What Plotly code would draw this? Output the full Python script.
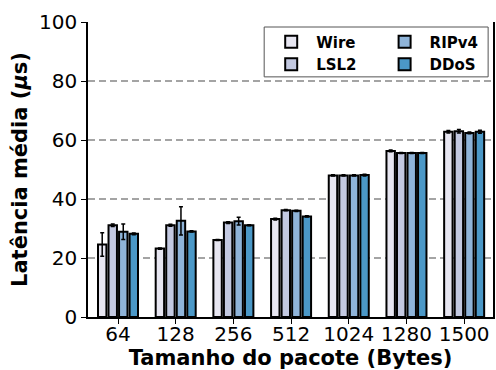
import plotly.graph_objects as go

categories = ["64", "128", "256", "512", "1024", "1280", "1500"]
series = ["Wire", "LSL2", "RIPv4", "DDoS"]
wire = [24.6, 23.2, 26.1, 33.2, 48.0, 56.3, 62.8]
wire_err = [4.0, 0.2, 0.2, 0.3, 0.2, 0.3, 0.4]
lsl2 = [31.1, 31.1, 32.0, 36.2, 48.0, 55.6, 63.0]
lsl2_err = [0.4, 0.3, 0.3, 0.2, 0.2, 0.2, 0.6]
ripv4 = [28.9, 32.6, 32.5, 36.0, 48.0, 55.6, 62.4]
ripv4_err = [2.6, 4.8, 1.3, 0.2, 0.2, 0.2, 0.3]
ddos = [28.2, 29.0, 31.1, 34.1, 48.1, 55.6, 62.8]
ddos_err = [0.3, 0.2, 0.2, 0.2, 0.3, 0.2, 0.5]

colors = ["#e7e6f1", "#c3c9e1", "#8fb4d9", "#4b98c7"]
values = [wire, lsl2, ripv4, ddos]
errors = [wire_err, lsl2_err, ripv4_err, ddos_err]
legends = ["legend", "legend", "legend2", "legend2"]

fig = go.Figure()
for name, v, e, c, lg in zip(series, values, errors, colors, legends):
    fig.add_trace(go.Bar(
        x=categories, y=v, name=name, legend=lg,
        marker=dict(color=c, line=dict(color="black", width=2)),
        error_y=dict(type="data", array=e, color="black", thickness=1.5, width=2),
    ))

font = "DejaVu Sans"
fig.update_layout(
    width=496, height=370,
    margin=dict(l=88, r=1, t=22, b=53),
    plot_bgcolor="white", paper_bgcolor="white",
    barmode="group", bargap=0.27, bargroupgap=0.2,
    font=dict(family=font, size=20, color="black"),
    showlegend=True,
    legend=dict(x=0.44, y=0.988, xanchor="left", yanchor="top",
                bgcolor="rgba(0,0,0,0)", font=dict(size=15, family=font, weight="bold"),
                tracegroupgap=2, itemwidth=40),
    legend2=dict(x=0.72, y=0.988, xanchor="left", yanchor="top",
                 bgcolor="rgba(0,0,0,0)", font=dict(size=15, family=font, weight="bold"),
                 tracegroupgap=2, itemwidth=40),
    xaxis=dict(
        type="category", range=[-0.52, 6.5],
        showline=True, linecolor="black", linewidth=1.5,
        ticks="outside", ticklen=5, tickcolor="black",
        tickfont=dict(size=20), ticklabelstandoff=-7,
        title=dict(text="<b>Tamanho do pacote (Bytes)</b>", font=dict(size=21), standoff=0),
    ),
    yaxis=dict(
        range=[0, 100], tickvals=[0, 20, 40, 60, 80, 100],
        showline=True, mirror=True, linecolor="black", linewidth=1.5,
        ticks="outside", ticklen=5, tickcolor="black",
        showgrid=True, gridcolor="#a4a4a4", griddash="7px,4px", gridwidth=2,
        zeroline=False, tickfont=dict(size=20),
        title=dict(text="<b>Latência média (<i>μ</i>s)</b>", font=dict(size=21), standoff=6),
    ),
    shapes=[dict(type="rect", xref="paper", yref="paper",
                 x0=0.435, x1=0.988, y0=0.814, y1=0.983,
                 line=dict(color="#555555", width=1), fillcolor="white", layer="above")],
)

fig.write_html("out.html", config={"displayModeBar": False},
               post_script="document.body.style.margin='0';")
